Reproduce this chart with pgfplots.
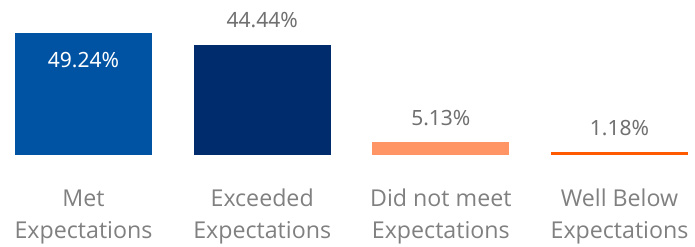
\documentclass[border=0pt]{standalone}
\usepackage{pgfplots}
\pgfplotsset{compat=1.18}
\usepackage{fontspec}
\setmainfont{Open Sans}
\newfontfamily\numfont{Noto Sans}
\definecolor{cA}{RGB}{0,82,162}
\definecolor{cB}{RGB}{0,44,110}
\definecolor{cC}{RGB}{255,148,100}
\definecolor{cD}{RGB}{255,90,0}
\definecolor{valgray}{RGB}{112,112,112}
\definecolor{catgray}{RGB}{128,128,128}
\begin{document}
\begin{tikzpicture}
\begin{axis}[
  at={(0,0)}, anchor=south west,
  scale only axis, width=695pt, height=155pt,
  xmin=-0.4673, xmax=3.4225, ymin=0, ymax=62.55,
  axis line style={draw=none}, tick style={draw=none},
  ytick=\empty,
  xtick={0,1,2,3},
  xticklabels={{Met\\Expectations},{Exceeded\\Expectations},{Did not meet\\Expectations},{Well Below\\Expectations}},
  xticklabel style={align=center, font=\fontsize{23.2}{32}\selectfont, text=catgray, anchor=base, yshift=-79pt},
  ybar, bar width=137pt, bar shift=0pt,
  clip=false,
  /pgf/number format/assume math mode=true,
  nodes near coords={\pgfmathprintnumber[fixed,precision=2,fixed zerofill,assume math mode=true]{\pgfplotspointmeta}\%},
  every node near coord/.append style={font=\numfont\fontsize{21}{24}\selectfont, text=valgray, anchor=base, yshift=17pt, inner sep=0pt},
]
\addplot[fill=cA, draw=none, every node near coord/.append style={text=white, yshift=-52pt}] coordinates {(0,49.24)};
\addplot[fill=cB, draw=none] coordinates {(1,44.44)};
\addplot[fill=cC, draw=none] coordinates {(2,5.13)};
\addplot[fill=cD, draw=none] coordinates {(3,1.18)};
\end{axis}
\pgfresetboundingbox
\path (0,-91pt) rectangle (695pt,155pt);
\end{tikzpicture}
\end{document}
